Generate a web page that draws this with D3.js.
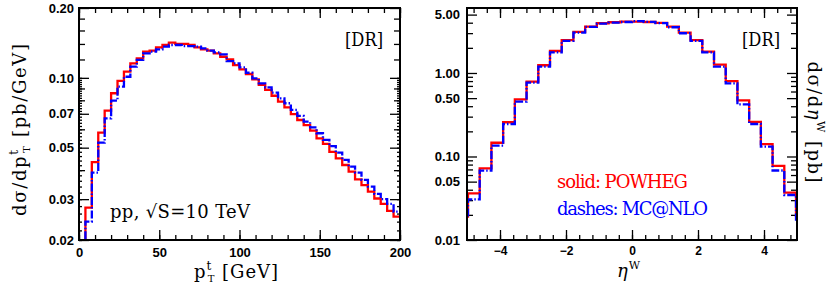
<!DOCTYPE html>
<html>
<head>
<meta charset="utf-8">
<script src="https://cdn.jsdelivr.net/npm/d3@7"></script>
<style>
body { margin: 0; background: #fff; }
svg { display: block; }
</style>
</head>
<body>
<div id="chart"></div>
<script>
// ---- datos: pT del top (bins de 4 GeV) ----
var ptBinWidth = 4
var ptBinLow = [0,4,8,12,16,20,24,28,32,36,40,44,48,52,56,60,64,68,72,76,80,84,88,92,96,
                100,104,108,112,116,120,124,128,132,136,140,144,148,152,156,160,164,168,172,176,180,184,188,192,196]
var ptPowheg = [0.012,0.0276,0.0433,0.058,0.0722,0.0858,0.097,0.1063,0.1155,0.1213,
                0.1296,0.1309,0.1354,0.1385,0.1418,0.140,0.140,0.1385,0.1354,0.1327,
                0.1309,0.1275,0.1233,0.1202,0.1135,0.1088,0.1039,0.0985,0.0932,0.0887,
                0.0837,0.0789,0.0746,0.0698,0.0658,0.0626,0.0592,0.0548,0.0519,0.048,
                0.045,0.0421,0.0394,0.0365,0.0345,0.0323,0.0302,0.0286,0.0267,0.0252]
var ptMcatnlo = [0.011,0.024,0.039,0.0526,0.0669,0.0797,0.0916,0.1011,0.1117,0.1194,
                 0.1275,0.1296,0.1327,0.1362,0.1385,0.1385,0.137,0.137,0.1362,0.134,
                 0.1309,0.1288,0.1263,0.118,0.1155,0.111,0.1052,0.0995,0.0947,0.091,
                 0.0863,0.0816,0.0777,0.0727,0.0685,0.0647,0.0612,0.0577,0.054,0.0508,
                 0.0476,0.0443,0.0414,0.039,0.0363,0.034,0.0316,0.030,0.0286,0.0265]

// ---- datos: eta del W (bins de 0.355) ----
var etaBinWidth = 0.355
var etaBinLow = [-5.325,-4.97,-4.615,-4.26,-3.905,-3.55,-3.195,-2.84,-2.485,-2.13,-1.775,-1.42,-1.065,-0.71,-0.355,
                 0,0.355,0.71,1.065,1.42,1.775,2.13,2.485,2.84,3.195,3.55,3.905,4.26,4.615,4.97]
var etaPowheg = [0.019,0.0362,0.0722,0.146,0.257,0.484,0.787,1.237,1.834,2.48,3.1,3.59,3.94,4.05,4.12,
                 4.12,4.08,3.98,3.59,3.04,2.48,1.8,1.26,0.8,0.47,0.26,0.141,0.077,0.0369,0.0195]
var etaMcatnlo = [0.0182,0.0307,0.0676,0.135,0.245,0.454,0.766,1.19,1.77,2.42,3.04,3.56,3.9,4.0,4.08,
                  4.18,4.1,3.95,3.53,2.99,2.43,1.77,1.19,0.75,0.42,0.245,0.131,0.068,0.0346,0.0175]

// ---- ticks ----
var ptXTicks = [0,50,100,150,200]
var ptYTicks = [0.02,0.03,0.05,0.07,0.1,0.2]
var ptYTickLabels = ["0.02","0.03","0.05","0.07","0.10","0.20"]
var etaXTicks = [-4,-2,0,2,4]
var etaXTickLabels = ["\u22124","\u22122","0","2","4"]
var etaYTicks = [0.01,0.05,0.1,0.5,1,5]
var etaYTickLabels = ["0.01","0.05","0.10","0.50","1.00","5.00"]

var width = 830
var height = 290

var svg = d3.select("#chart")
            .append("svg")
            .attr("width", width)
            .attr("height", height)

var tickFont = "'Liberation Sans', Arial, sans-serif"
var textFont = "'DejaVu Serif', serif"

//Dibuja un panel con ejes, ticks e histogramas
function drawPanel(cfg) {
    var g = svg.append("g")

    var x = d3.scaleLinear().domain(cfg.xDomain).range([cfg.left, cfg.right])
    var y = d3.scaleLog().domain(cfg.yDomain).range([cfg.bottom, cfg.top])

    var clipId = "clip" + cfg.name
    svg.append("clipPath").attr("id", clipId)
        .append("rect")
        .attr("x", cfg.left).attr("y", cfg.top)
        .attr("width", cfg.right - cfg.left).attr("height", cfg.bottom - cfg.top)

    //ticks menores y mayores en los cuatro lados
    function axisSet(axisFn, scale, values, size, pos, labels, pad, fontSize) {
        var ax = axisFn(scale).tickValues(values).tickSize(-size)
        if (labels) {
            ax.tickFormat((d, i) => labels[i]).tickPadding(pad)
        } else {
            ax.tickFormat("")
        }
        var a = g.append("g").attr("transform", pos).call(ax)
        a.select(".domain").remove()
        a.selectAll("line").attr("stroke", "#000").attr("stroke-width", 1.3)
        a.selectAll("text")
         .attr("fill", "#000")
         .style("font-family", tickFont)
         .style("font-weight", "bold")
         .style("font-size", (fontSize || 13) + "px")
        return a
    }

    var bottomPos = "translate(0," + cfg.bottom + ")"
    var topPos = "translate(0," + cfg.top + ")"
    var leftPos = "translate(" + cfg.left + ",0)"
    var rightPos = "translate(" + cfg.right + ",0)"

    axisSet(d3.axisBottom, x, cfg.xMinor, 5, bottomPos)
    axisSet(d3.axisBottom, x, cfg.xTicks, 10, bottomPos, cfg.xTickLabels, cfg.xPad, cfg.xFontSize)
    axisSet(d3.axisTop, x, cfg.xMinor, 5, topPos)
    axisSet(d3.axisTop, x, cfg.xTicks, 10, topPos)

    axisSet(d3.axisLeft, y, cfg.yFine, 3, leftPos)
    axisSet(d3.axisLeft, y, cfg.yMinor, 6, leftPos)
    axisSet(d3.axisLeft, y, cfg.yTicks, 10, leftPos, cfg.yTickLabels, cfg.yPad, 13)
    axisSet(d3.axisRight, y, cfg.yFine, 3, rightPos)
    axisSet(d3.axisRight, y, cfg.yMinor, 6, rightPos)
    axisSet(d3.axisRight, y, cfg.yTicks, 10, rightPos)

    //histogramas
    var line = d3.line().x(d => x(d[0])).y(d => y(d[1]))
    function steps(low, vals, w) {
        var pts = []
        low.forEach(function (lo, i) {
            pts.push([lo, vals[i]])
            pts.push([lo + w, vals[i]])
        })
        return pts
    }
    var hg = g.append("g").attr("clip-path", "url(#" + clipId + ")")
    hg.append("path")
        .attr("d", line(steps(cfg.binLow, cfg.red, cfg.binWidth)))
        .attr("fill", "none")
        .attr("stroke", "#ff0000")
        .attr("stroke-width", 2.3)
    hg.append("path")
        .attr("d", line(steps(cfg.binLow, cfg.blue, cfg.binWidth)))
        .attr("fill", "none")
        .attr("stroke", "#0000ff")
        .attr("stroke-width", 2.3)
        .attr("stroke-dasharray", "8,2,1.5,2")

    //marco
    g.append("rect")
        .attr("x", cfg.left).attr("y", cfg.top)
        .attr("width", cfg.right - cfg.left).attr("height", cfg.bottom - cfg.top)
        .attr("fill", "none")
        .attr("stroke", "#000")
        .attr("stroke-width", 2)

    g.append("text")
        .attr("x", cfg.right - 55)
        .attr("y", 46)
        .attr("fill", "#000")
        .attr("textLength", 38)
        .attr("lengthAdjust", "spacingAndGlyphs")
        .style("font-family", textFont)
        .style("font-size", "18px")
        .text("[DR]")
    return {x: x, y: y}
}

function fineTicks(a, b, step) {
    return d3.range(a, b + step / 2, step).map(v => +v.toFixed(4))
}

drawPanel({
    name: "pt", left: 79, right: 400, top: 8, bottom: 240,
    xDomain: [0, 200], yDomain: [0.02, 0.2],
    xTicks: ptXTicks, xTickLabels: ptXTicks.map(String), xMinor: d3.range(0, 201, 10), xPad: 8, xFontSize: 13,
    yTicks: ptYTicks, yTickLabels: ptYTickLabels, yPad: 5,
    yMinor: [0.04,0.06,0.08,0.09,0.12,0.14,0.16,0.18],
    yFine: fineTicks(0.02, 0.1, 0.002),
    binLow: ptBinLow, binWidth: ptBinWidth, red: ptPowheg, blue: ptMcatnlo
})

drawPanel({
    name: "eta", left: 467, right: 797, top: 8, bottom: 240,
    xDomain: [-5, 5], yDomain: [0.01, 6],
    xTicks: etaXTicks, xTickLabels: etaXTickLabels, xMinor: fineTicks(-4.8, 4.8, 0.4), xPad: 6, xFontSize: 12,
    yTicks: etaYTicks, yTickLabels: etaYTickLabels, yPad: 7,
    yMinor: [0.02,0.03,0.04,0.06,0.07,0.08,0.09,0.2,0.3,0.4,0.6,0.7,0.8,0.9,2,3,4],
    yFine: [],
    binLow: etaBinLow, binWidth: etaBinWidth, red: etaPowheg, blue: etaMcatnlo
})

//Etiqueta eje Y izquierdo
var yTitleL = svg.append("text")
    .attr("transform", "translate(26,130) rotate(-90)")
    .attr("text-anchor", "middle")
    .attr("fill", "#000")
    .attr("textLength", 172)
    .attr("lengthAdjust", "spacing")
    .style("font-family", textFont)
    .style("font-size", "18px")
yTitleL.append("tspan").text("d\u03c3/dp")
yTitleL.append("tspan").attr("dy", -8).style("font-size", "12px").text("t")
yTitleL.append("tspan").attr("dx", -4.5).attr("dy", 12).style("font-size", "10px").text("T")
yTitleL.append("tspan").attr("dy", -4).text(" [pb/GeV]")

//Etiqueta eje X izquierdo
var xTitleL = svg.append("text")
    .attr("x", 236).attr("y", 278)
    .attr("text-anchor", "middle")
    .attr("fill", "#000")
    .attr("textLength", 84)
    .attr("lengthAdjust", "spacing")
    .style("font-family", textFont)
    .style("font-size", "18px")
xTitleL.append("tspan").text("p")
xTitleL.append("tspan").attr("dy", -8).style("font-size", "12px").text("t")
xTitleL.append("tspan").attr("dx", -4.5).attr("dy", 12).style("font-size", "10px").text("T")
xTitleL.append("tspan").attr("dy", -4).text(" [GeV]")

//Etiqueta eje X derecho
var xTitleR = svg.append("text")
    .attr("x", 617).attr("y", 277)
    .attr("fill", "#000")
    .style("font-family", textFont)
    .style("font-size", "18px")
xTitleR.append("tspan").style("font-style", "italic").text("\u03b7")
xTitleR.append("tspan").attr("dy", -8).attr("dx", 1).style("font-size", "11px").text("W")

//Etiqueta eje Y derecho
var yTitleR = svg.append("text")
    .attr("transform", "translate(808,122) rotate(90)")
    .attr("text-anchor", "middle")
    .attr("fill", "#000")
    .attr("textLength", 121)
    .attr("lengthAdjust", "spacing")
    .style("font-family", textFont)
    .style("font-size", "18px")
yTitleR.append("tspan").text("d\u03c3/d")
yTitleR.append("tspan").style("font-style", "italic").text("\u03b7")
yTitleR.append("tspan").attr("dy", -9).style("font-size", "11px").text("W")
yTitleR.append("tspan").attr("dy", 9).text(" [pb]")

//Textos dentro de los paneles
svg.append("text")
    .attr("x", 110).attr("y", 218)
    .attr("fill", "#000")
    .attr("textLength", 140)
    .attr("lengthAdjust", "spacing")
    .style("font-family", textFont)
    .style("font-size", "18px")
    .text("pp, \u221aS=10 TeV")

svg.append("text")
    .attr("x", 557).attr("y", 188)
    .attr("fill", "#ff0000")
    .attr("textLength", 131)
    .attr("lengthAdjust", "spacing")
    .style("font-family", textFont)
    .style("font-size", "18px")
    .text("solid: POWHEG")

svg.append("text")
    .attr("x", 557).attr("y", 215)
    .attr("fill", "#0000ff")
    .attr("textLength", 151)
    .attr("lengthAdjust", "spacing")
    .style("font-family", textFont)
    .style("font-size", "18px")
    .text("dashes: MC@NLO")
</script>
</body>
</html>
